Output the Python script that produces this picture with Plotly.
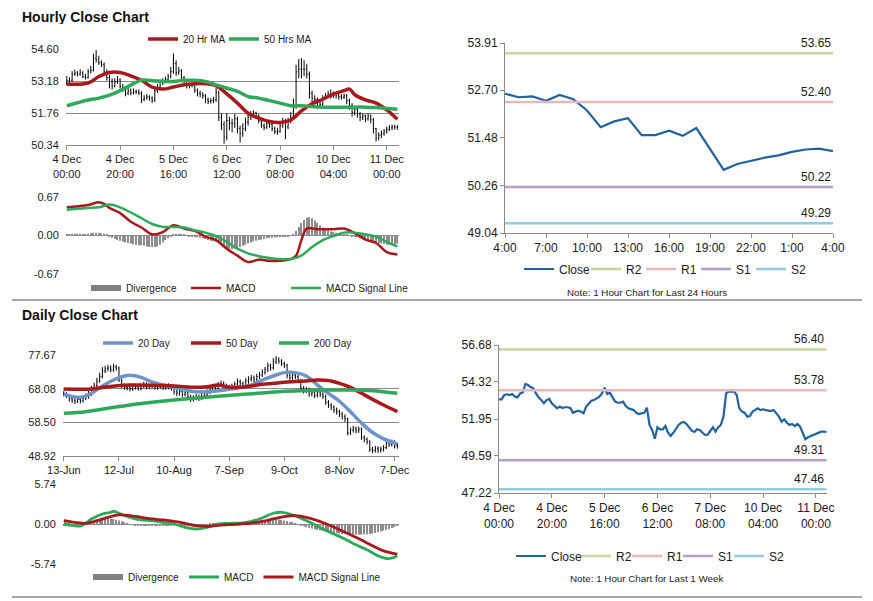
import plotly.graph_objects as go

# hourly bars, 4 Dec 00:00 -> 11 Dec 04:00 (trading hours only)
hourly_close = [
    53.21, 53.21, 53.48, 53.53, 53.48, 53.55, 53.38, 53.33, 53.59, 53.65,
    54.19, 54.12, 53.99, 53.91, 53.59, 53.33, 53.16, 52.95, 53.16, 53.23,
    52.95, 52.82, 52.63, 52.74, 52.65, 52.70, 52.70, 52.65, 52.35, 52.42,
    52.48, 52.42, 52.31, 52.74, 52.91, 53.12, 53.16, 53.25, 53.38, 53.59,
    53.95, 53.55, 53.63, 53.33, 53.06, 52.99, 52.99, 53.06, 52.78, 52.63,
    52.59, 52.52, 52.35, 52.27, 52.31, 52.35, 52.67, 51.57, 51.25, 50.69,
    51.42, 51.29, 51.29, 51.50, 51.07, 50.86, 51.07, 51.35, 51.57, 51.71,
    51.76, 51.63, 51.42, 51.20, 51.12, 51.29, 51.25, 51.07, 50.93, 50.95,
    51.20, 51.42, 51.14, 51.42, 51.57, 52.10, 53.59, 53.70, 53.70, 53.70,
    53.48, 52.63, 52.42, 52.35, 52.10, 52.14, 52.42, 52.52, 52.63, 52.52,
    52.57, 52.52, 52.48, 52.46, 52.52, 52.31, 52.10, 51.78, 51.93, 51.71,
    51.57, 51.63, 51.50, 51.63, 51.46, 51.07, 50.65, 50.78, 50.86, 50.93,
    51.03, 51.10, 51.14, 51.14, 51.12,
]
hourly_open = [
    53.10, 53.21, 53.21, 53.48, 53.53, 53.48, 53.55, 53.38, 53.33, 53.59,
    53.65, 54.19, 54.12, 53.99, 53.91, 53.59, 53.33, 53.16, 52.95, 53.16,
    53.23, 52.95, 52.82, 52.63, 52.74, 52.65, 52.70, 52.70, 52.65, 52.35,
    52.42, 52.48, 52.42, 52.31, 52.74, 52.91, 53.12, 53.16, 53.25, 53.38,
    53.59, 53.95, 53.55, 53.63, 53.33, 53.06, 52.99, 52.99, 53.06, 52.78,
    52.63, 52.59, 52.52, 52.35, 52.27, 52.31, 52.35, 52.67, 51.57, 51.25,
    50.69, 51.42, 51.29, 51.29, 51.50, 51.07, 50.86, 51.07, 51.35, 51.57,
    51.71, 51.76, 51.63, 51.42, 51.20, 51.12, 51.29, 51.25, 51.07, 50.93,
    50.95, 51.20, 51.42, 51.14, 51.42, 51.57, 52.10, 53.59, 53.70, 53.70,
    53.70, 53.48, 52.63, 52.42, 52.35, 52.10, 52.14, 52.42, 52.52, 52.63,
    52.52, 52.57, 52.52, 52.48, 52.46, 52.52, 52.31, 52.10, 51.78, 51.93,
    51.71, 51.57, 51.63, 51.50, 51.63, 51.46, 51.07, 50.65, 50.78, 50.86,
    50.93, 51.03, 51.10, 51.14, 51.14,
]
hourly_high = [
    53.40, 53.35, 53.62, 53.68, 53.62, 53.70, 53.62, 53.50, 53.72, 53.85,
    54.40, 54.55, 54.30, 54.10, 54.00, 53.70, 53.45, 53.30, 53.30, 53.40,
    53.30, 53.05, 52.95, 52.90, 52.85, 52.85, 52.80, 52.80, 52.72, 52.55,
    52.60, 52.55, 52.50, 52.85, 53.05, 53.25, 53.30, 53.38, 53.50, 53.80,
    54.40, 54.10, 53.80, 53.70, 53.40, 53.15, 53.10, 53.18, 53.10, 52.85,
    52.75, 52.68, 52.60, 52.45, 52.42, 52.48, 52.90, 52.75, 51.75, 51.40,
    51.75, 51.60, 51.50, 51.72, 51.60, 51.20, 51.30, 51.55, 51.70, 51.85,
    51.88, 51.82, 51.70, 51.50, 51.30, 51.40, 51.38, 51.32, 51.15, 51.10,
    51.32, 51.55, 51.50, 51.55, 51.80, 52.40, 53.90, 54.15, 54.20, 54.10,
    53.95, 53.60, 52.75, 52.55, 52.45, 52.30, 52.55, 52.65, 52.75, 52.80,
    52.72, 52.68, 52.65, 52.60, 52.62, 52.60, 52.40, 52.20, 52.05, 52.00,
    51.80, 51.75, 51.70, 51.75, 51.70, 51.55, 51.10, 50.90, 50.98, 51.05,
    51.15, 51.22, 51.25, 51.24, 51.22,
]
hourly_low = [
    53.00, 53.05, 53.15, 53.40, 53.38, 53.42, 53.30, 53.25, 53.28, 53.52,
    53.60, 54.00, 53.90, 53.80, 53.50, 53.20, 52.85, 52.80, 52.90, 53.05,
    52.85, 52.70, 52.50, 52.55, 52.55, 52.58, 52.60, 52.55, 52.20, 52.28,
    52.35, 52.30, 52.20, 52.25, 52.65, 52.85, 53.00, 53.08, 53.15, 53.30,
    53.50, 53.40, 53.45, 53.20, 52.95, 52.85, 52.85, 52.90, 52.65, 52.50,
    52.45, 52.40, 52.20, 52.15, 52.18, 52.20, 52.25, 51.40, 51.00, 50.40,
    50.55, 51.00, 50.90, 51.10, 50.85, 50.45, 50.70, 50.95, 51.20, 51.45,
    51.55, 51.50, 51.30, 51.10, 51.00, 51.05, 51.10, 50.95, 50.82, 50.80,
    50.88, 51.10, 50.60, 51.05, 51.30, 51.45, 51.95, 53.30, 53.30, 53.40,
    53.30, 52.40, 52.20, 52.20, 51.95, 52.00, 52.05, 52.35, 52.45, 52.40,
    52.42, 52.40, 52.35, 52.35, 52.38, 52.15, 51.90, 51.60, 51.65, 51.55,
    51.40, 51.45, 51.35, 51.42, 51.30, 50.85, 50.50, 50.55, 50.65, 50.75,
    50.85, 50.95, 51.00, 51.02, 51.02,
]
hourly_tick_idx = [0, 20, 40, 60, 80, 100, 120]
hourly_tick_text = ["4 Dec<br>00:00", "4 Dec<br>20:00", "5 Dec<br>16:00", "6 Dec<br>12:00",
                    "7 Dec<br>08:00", "10 Dec<br>04:00", "11 Dec<br>00:00"]
hourly_y_ticks = [50.34, 51.76, 53.18, 54.60]

ma20h_idx = [0, 8, 12, 16, 20, 24, 28, 32, 36, 40, 44, 48, 52, 56, 60, 64,
             68, 72, 76, 80, 84, 88, 92, 96, 100, 104, 106, 108, 112, 116, 120, 124]
ma20h = [53.04, 53.09, 53.38, 53.56, 53.56, 53.41, 53.21, 52.91, 52.82, 52.91, 53.01,
         53.06, 53.06, 52.97, 52.61, 52.20, 51.75, 51.53, 51.38, 51.34, 51.45, 51.85,
         52.17, 52.37, 52.60, 52.75, 52.82, 52.57, 52.34, 52.20, 51.90, 51.48]
ma50h_idx = [0, 8, 12, 16, 20, 24, 28, 32, 36, 40, 44, 48, 52, 56, 60, 64,
             68, 72, 76, 80, 84, 88, 92, 96, 100, 104, 108, 112, 116, 120, 124]
ma50h = [52.08, 52.34, 52.42, 52.55, 52.75, 53.00, 53.22, 53.19, 53.16, 53.16, 53.21,
         53.21, 53.16, 53.01, 52.86, 52.72, 52.49, 52.42, 52.31, 52.20, 52.08, 52.08,
         52.05, 52.02, 52.02, 52.02, 52.02, 52.02, 52.00, 51.96, 51.93]

macdh_idx = [0, 8, 12, 14, 16, 20, 24, 28, 32, 36, 40, 44, 48, 52, 56, 60, 64,
             68, 72, 76, 80, 84, 86, 88, 90, 94, 100, 104, 108, 112, 116, 120, 124]
macdh = [0.49, 0.53, 0.58, 0.55, 0.48, 0.39, 0.24, 0.14, 0.02, 0.06, 0.18, 0.12, 0.08,
         -0.02, -0.08, -0.23, -0.35, -0.46, -0.42, -0.44, -0.44, -0.41, -0.35, -0.08,
         0.12, 0.11, 0.11, 0.12, 0.04, -0.07, -0.13, -0.29, -0.33]
signalh_idx = ma50h_idx
signalh = [0.45, 0.48, 0.49, 0.54, 0.49, 0.40, 0.30, 0.20, 0.15, 0.15, 0.14, 0.09, 0.05,
           -0.01, -0.11, -0.23, -0.31, -0.36, -0.39, -0.41, -0.41, -0.35, -0.20, -0.08,
           -0.01, 0.05, 0.05, 0.02, -0.02, -0.11, -0.19]
divh = [
    0.02, 0.02, 0.03, 0.03, 0.03, 0.03, 0.02, 0.02, 0.03, 0.04, 0.05, 0.05, 0.05, 0.04, 0.03, 0.02,
    -0.02, -0.04, -0.06, -0.08, -0.09, -0.11, -0.12, -0.13, -0.14, -0.15, -0.16, -0.17,
    -0.17, -0.18, -0.19, -0.2, -0.2, -0.2, -0.19, -0.16, -0.12, -0.08, -0.05, -0.02,
    0.02, 0.03, 0.03, 0.02, 0.01, 0.0, -0.01, -0.02, -0.02, -0.03, -0.04, -0.05,
    -0.06, -0.08, -0.09, -0.1, -0.11, -0.14, -0.17, -0.2, -0.22, -0.24, -0.24, -0.23,
    -0.22, -0.2, -0.18, -0.16, -0.14, -0.12, -0.1,
    -0.09, -0.08, -0.07, -0.06, -0.05, -0.04, -0.04, -0.03, -0.03, -0.02, -0.02, -0.01,
    -0.01, 0.0, 0.03,
    0.08, 0.15, 0.22, 0.27, 0.31, 0.32, 0.3, 0.26, 0.22, 0.18, 0.14, 0.11, 0.09, 0.07,
    0.06, 0.05, 0.04, 0.03, 0.02, 0.01, 0.0, -0.01,
    -0.02, -0.03, -0.05, -0.06, -0.08, -0.09, -0.1, -0.11, -0.12, -0.13, -0.14, -0.15,
    -0.16, -0.16, -0.15, -0.15, -0.14,
]
macd_h_ticks = [-0.67, 0.0, 0.67]

# last 24 hours
day_close = [52.61, 52.52, 52.54, 52.43, 52.58, 52.47, 52.18, 51.75, 51.90, 51.98, 51.55,
             51.55, 51.66, 51.53, 51.73, 51.19, 50.66, 50.81, 50.89, 50.97, 51.03, 51.12,
             51.18, 51.20, 51.14]
day_tick_idx = [0, 3, 6, 9, 12, 15, 18, 21, 24]
day_tick_text = ["4:00", "7:00", "10:00", "13:00", "16:00", "19:00", "22:00", "1:00", "4:00"]
day_y_ticks = [49.04, 50.26, 51.48, 52.70, 53.91]
day_levels = {"R2": 53.65, "R1": 52.40, "S1": 50.22, "S2": 49.29}

week_y_ticks = [47.22, 49.59, 51.95, 54.32, 56.68]
week_levels = {"R2": 56.40, "R1": 53.78, "S1": 49.31, "S2": 47.46}

# daily bars, 13-Jun -> 10-Dec
daily_close = [
    66.5, 66.0, 65.2, 64.8, 64.5, 65.0, 64.6, 65.3, 65.8, 66.5,
    68.0, 69.0, 70.2, 71.5, 73.2, 73.8, 74.0, 73.5, 74.3, 74.0,
    70.5, 69.0, 68.4, 68.3, 68.0, 68.8, 68.5, 68.2, 68.9, 69.3,
    68.6, 68.8, 69.2, 68.5, 68.7, 69.0, 68.4, 68.9, 68.6, 68.2,
    67.2, 66.8, 67.3, 66.5, 66.9, 65.8, 65.2, 65.5, 65.9, 65.4,
    66.0, 66.3, 67.2, 67.8, 68.5, 68.0, 69.2, 69.6, 68.9, 68.3,
    68.5, 68.8, 69.4, 70.1, 69.5, 69.0, 70.3, 70.8, 71.2, 70.6,
    71.5, 72.0, 72.8, 73.5, 74.6, 74.0, 75.8, 76.5, 75.9, 75.2,
    74.8, 71.8, 71.3, 72.0, 71.5, 70.5, 68.2, 67.5, 67.9, 66.6,
    66.9, 66.2, 67.1, 66.5, 65.9, 64.2, 63.4, 62.8, 62.0, 61.5,
    60.8, 60.2, 59.5, 55.5, 56.3, 56.8, 56.2, 56.6, 54.2, 53.6,
    53.0, 50.8, 50.5, 51.1, 50.6, 50.9, 51.3, 52.6, 52.2, 52.9, 51.8, 51.9,
]
daily_open = [
    66.8, 66.5, 66.0, 65.2, 64.8, 64.5, 65.0, 64.6, 65.3, 65.8,
    66.5, 68.0, 69.0, 70.2, 71.5, 73.2, 73.8, 74.0, 73.5, 74.3,
    74.0, 70.5, 69.0, 68.4, 68.3, 68.0, 68.8, 68.5, 68.2, 68.9,
    69.3, 68.6, 68.8, 69.2, 68.5, 68.7, 69.0, 68.4, 68.9, 68.6,
    68.2, 67.2, 66.8, 67.3, 66.5, 66.9, 65.8, 65.2, 65.5, 65.9,
    65.4, 66.0, 66.3, 67.2, 67.8, 68.5, 68.0, 69.2, 69.6, 68.9,
    68.3, 68.5, 68.8, 69.4, 70.1, 69.5, 69.0, 70.3, 70.8, 71.2,
    70.6, 71.5, 72.0, 72.8, 73.5, 74.6, 74.0, 75.8, 76.5, 75.9,
    75.2, 74.8, 71.8, 71.3, 72.0, 71.5, 70.5, 68.2, 67.5, 67.9,
    66.6, 66.9, 66.2, 67.1, 66.5, 65.9, 64.2, 63.4, 62.8, 62.0,
    61.5, 60.8, 60.2, 59.5, 55.5, 56.3, 56.8, 56.2, 56.6, 54.2,
    53.6, 53.0, 50.8, 50.5, 51.1, 50.6, 50.9, 51.3, 52.6, 52.2, 52.9, 51.8,
]
daily_high = [
    67.5, 67.1, 66.6, 65.9, 65.5, 65.8, 65.6, 66.0, 66.7, 67.6,
    68.9, 69.8, 71.2, 72.6, 74.2, 74.6, 74.9, 74.7, 75.2, 74.9,
    74.4, 71.0, 69.6, 69.2, 69.0, 69.5, 69.4, 69.1, 69.6, 70.0,
    69.9, 69.5, 69.9, 69.8, 69.4, 69.7, 69.6, 69.5, 69.6, 69.2,
    68.6, 67.9, 68.0, 67.8, 67.5, 67.4, 66.4, 66.2, 66.6, 66.4,
    66.7, 67.0, 67.9, 68.6, 69.3, 69.1, 70.0, 70.4, 70.2, 69.5,
    69.2, 69.5, 70.1, 71.0, 70.7, 70.1, 71.1, 71.6, 72.0, 71.8,
    72.3, 72.8, 73.6, 74.3, 75.5, 75.2, 76.8, 77.4, 77.0, 76.5,
    75.8, 75.2, 72.5, 72.8, 72.6, 72.1, 70.9, 68.8, 68.6, 68.4,
    67.6, 67.4, 67.9, 67.7, 67.1, 66.4, 64.8, 64.0, 63.4, 62.7,
    62.1, 61.5, 60.8, 59.9, 57.0, 57.5, 57.3, 57.3, 57.0, 54.8,
    54.2, 53.4, 51.5, 51.8, 51.7, 51.6, 52.0, 53.3, 53.2, 53.6, 53.4, 52.6,
]
daily_low = [
    65.8, 65.4, 64.4, 64.0, 63.7, 64.0, 63.9, 64.1, 64.8, 65.2,
    66.0, 67.4, 68.5, 69.8, 71.0, 72.5, 73.0, 72.8, 72.9, 73.2,
    70.0, 68.3, 67.8, 67.6, 67.3, 67.4, 67.8, 67.5, 67.6, 68.2,
    67.9, 67.9, 68.1, 67.8, 67.8, 68.0, 67.7, 67.8, 67.9, 67.5,
    66.4, 66.0, 66.1, 65.7, 65.9, 65.0, 64.3, 64.4, 64.8, 64.6,
    64.8, 65.3, 65.8, 66.5, 67.1, 67.3, 67.5, 68.6, 68.1, 67.6,
    67.6, 67.8, 68.1, 68.7, 68.8, 68.3, 68.6, 69.5, 70.1, 69.9,
    69.9, 70.8, 71.4, 72.1, 72.8, 73.2, 73.5, 75.1, 75.2, 74.5,
    74.0, 71.0, 70.4, 70.6, 70.8, 69.8, 67.3, 66.7, 66.8, 65.8,
    65.9, 65.4, 65.6, 65.7, 65.1, 63.5, 62.6, 62.0, 61.2, 60.7,
    60.0, 59.3, 58.6, 54.8, 54.9, 55.6, 55.4, 55.5, 53.5, 52.8,
    52.2, 50.1, 49.7, 49.9, 49.8, 49.9, 50.2, 50.9, 51.5, 51.6, 51.1, 51.0,
]
daily_tick_idx = [0, 20, 40, 60, 80, 100, 120]
daily_tick_text = ["13-Jun", "12-Jul", "10-Aug", "7-Sep", "9-Oct", "8-Nov", "7-Dec"]
daily_y_ticks = [48.92, 58.50, 68.08, 77.67]

ma20d_idx = [0, 6, 10, 14, 18, 22, 24, 28, 32, 36, 40, 44, 48, 52, 56, 60, 64,
             68, 72, 76, 80, 84, 88, 92, 96, 100, 104, 108, 112, 116, 120, 121]
ma20d = [66.47, 65.62, 66.76, 68.85, 70.55, 71.7, 71.88, 71.3, 70.0, 69.13, 68.47, 67.7,
         67.2, 67.2, 67.5, 67.9, 68.47, 69.13, 70.55, 71.7, 72.65, 72.65, 71.7, 69.13,
         66.76, 64.5, 61.5, 58.3, 55.6, 53.8, 52.6, 52.3]
ma50d_idx = [0, 10, 16, 24, 32, 40, 48, 52, 56, 60, 64, 68, 72, 76, 80, 84, 88, 92,
             96, 100, 104, 108, 112, 116, 121]
ma50d = [67.99, 67.99, 68.66, 69.13, 69.04, 68.85, 68.47, 68.66, 69.1, 68.47, 68.47,
         68.85, 69.32, 69.6, 69.9, 70.1, 70.3, 70.55, 70.4, 69.6, 68.47, 66.76, 65.05,
         63.44, 61.54]
ma200d_idx = [0, 8, 16, 24, 32, 40, 48, 56, 64, 72, 80, 88, 96, 104, 112, 121]
ma200d = [61.06, 61.54, 62.5, 63.44, 64.2, 64.86, 65.43, 65.9, 66.4, 66.85, 67.33, 67.6,
          67.7, 67.7, 67.5, 66.76]

macdd_idx = [0, 4, 6, 8, 10, 14, 17, 18, 20, 24, 28, 32, 36, 40, 44, 48, 52, 56, 60,
             64, 68, 72, 76, 79, 82, 86, 90, 94, 98, 102, 106, 110, 114, 117, 119, 121]
macdd = [0.1, -0.24, -0.29, 0.1, 0.72, 1.44, 1.68, 1.83, 1.54, 0.96, 0.58, 0.48, 0.24,
         0.0, -0.48, -0.72, -0.48, 0.0, 0.1, 0.14, 0.38, 0.87, 1.54, 1.68, 1.44, 0.82,
         0.1, -0.72, -1.44, -2.16, -2.98, -3.7, -4.57, -4.95, -4.9, -4.6]
signald_idx = [0, 4, 8, 12, 16, 20, 24, 28, 32, 36, 40, 44, 48, 52, 56, 60, 64, 68,
               72, 76, 80, 84, 88, 92, 96, 100, 104, 108, 112, 116, 121]
signald = [0.48, 0.24, 0.1, 0.48, 0.96, 1.3, 1.2, 0.96, 0.72, 0.58, 0.38, 0.1, -0.24,
           -0.34, -0.19, -0.1, 0.0, 0.14, 0.38, 0.72, 1.06, 1.2, 0.96, 0.48, -0.1,
           -0.82, -1.54, -2.31, -3.13, -3.85, -4.33]
divd = [
    -0.3, -0.35, -0.4, -0.42, -0.45, -0.4, -0.35, -0.2, -0.05, 0.1,
    0.25, 0.4, 0.5, 0.6, 0.65, 0.7, 0.72, 0.72, 0.7, 0.62, 0.5, 0.38, 0.25, 0.12,
    -0.05, -0.12, -0.18, -0.22, -0.25, -0.27, -0.28, -0.28, -0.27, -0.26,
    -0.25, -0.24, -0.23, -0.22, -0.22, -0.23, -0.25, -0.28, -0.3, -0.32,
    -0.33, -0.33, -0.32, -0.3, -0.27, -0.22, -0.16, -0.1, -0.04, 0.02,
    0.06, 0.09, 0.12, 0.14, 0.15, 0.15, 0.14, 0.14, 0.15, 0.16,
    0.18, 0.2, 0.22, 0.25, 0.28, 0.32, 0.36, 0.4,
    0.44, 0.5, 0.55, 0.6, 0.64, 0.66, 0.65, 0.6, 0.52, 0.42, 0.3, 0.18, 0.05, -0.08,
    -0.2, -0.32, -0.44, -0.55, -0.65, -0.75, -0.85, -0.93, -1.0, -1.08,
    -1.15, -1.22, -1.28, -1.33, -1.38, -1.42, -1.45, -1.48, -1.5, -1.52,
    -1.53, -1.53, -1.52, -1.5, -1.47, -1.43, -1.38, -1.3, -1.2, -1.08,
    -0.95, -0.82, -0.7, -0.58, -0.45, -0.3,
]
macd_d_ticks = [-5.74, 0.0, 5.74]

# the page body adds an 8px margin: the figure fills the rest of the window
OX, OY = 8, 8
W, H = 873 - OX, 601 - OY
RED = "#a8191b"
GREEN = "#2fa85a"
BLUE = "#6f93c9"
CLOSE_BLUE = "#22629e"
LEVEL_COLORS = {"R2": "#c3d69b", "R1": "#e6b9b8", "S1": "#b3a2c7", "S2": "#93cddd"}
GRID = "#8a8a8a"
FONT = "Liberation Sans, Arial, sans-serif"


def px(x):
    return (x - OX) / W


def py(y):
    return 1 - (y - OY) / H


def xdom(a, b):
    return [px(a), px(b)]


def ydom(top, bottom):
    return [py(bottom), py(top)]


def fmt(vals):
    return ["%.2f" % v for v in vals]


hourly_x = list(range(len(hourly_close)))
daily_x = list(range(len(daily_close)))
day_x = list(range(len(day_close)))

fig = go.Figure()

# ---- hourly price panel
fig.add_trace(go.Ohlc(x=hourly_x, open=hourly_open, high=hourly_high, low=hourly_low,
                      close=hourly_close, tickwidth=0.3, showlegend=False, hoverinfo="skip",
                      increasing_line=dict(color="black", width=1),
                      decreasing_line=dict(color="black", width=1),
                      xaxis="x", yaxis="y"))
fig.add_trace(go.Scatter(x=ma20h_idx, y=ma20h, name="20 Hr MA", mode="lines",
                         line=dict(color=RED, width=3.5, shape="spline"), legendwidth=36,
                         legend="legend", xaxis="x", yaxis="y"))
fig.add_trace(go.Scatter(x=ma50h_idx, y=ma50h, name="50 Hrs MA", mode="lines",
                         line=dict(color=GREEN, width=3.5, shape="spline"),
                         legend="legend", xaxis="x", yaxis="y"))

# ---- hourly MACD panel
fig.add_trace(go.Bar(x=hourly_x, y=divh, width=0.45, marker_color="#8c8c8c",
                     marker_line_width=0, showlegend=False, xaxis="x2", yaxis="y2"))
fig.add_trace(go.Scatter(x=[None], y=[None], name="Divergence", mode="lines",
                         line=dict(color="#808080", width=6), legendwidth=55,
                         legend="legend2", xaxis="x2", yaxis="y2"))
fig.add_trace(go.Scatter(x=macdh_idx, y=macdh, name="MACD", mode="lines",
                         line=dict(color=RED, width=2.5, shape="spline"), legendwidth=55,
                         legend="legend2", xaxis="x2", yaxis="y2"))
fig.add_trace(go.Scatter(x=signalh_idx, y=signalh, name="MACD Signal Line", mode="lines",
                         line=dict(color=GREEN, width=2.5, shape="spline"),
                         legend="legend2", xaxis="x2", yaxis="y2"))

# ---- last 24 hours
fig.add_trace(go.Scatter(x=day_x, y=day_close, name="Close", mode="lines",
                         line=dict(color=CLOSE_BLUE, width=2.2), legendwidth=22,
                         legend="legend3", xaxis="x3", yaxis="y3"))
for name, val in day_levels.items():
    fig.add_trace(go.Scatter(x=[day_x[0], day_x[-1]], y=[val, val], name=name, mode="lines",
                             line=dict(color=LEVEL_COLORS[name], width=2.5),
                             legendwidth=10 if name != "S2" else None,
                             legend="legend3", xaxis="x3", yaxis="y3"))

# ---- daily price panel
fig.add_trace(go.Ohlc(x=daily_x, open=daily_open, high=daily_high, low=daily_low,
                      close=daily_close, tickwidth=0.3, showlegend=False, hoverinfo="skip",
                      increasing_line=dict(color="black", width=1),
                      decreasing_line=dict(color="black", width=1),
                      xaxis="x4", yaxis="y4"))
fig.add_trace(go.Scatter(x=ma20d_idx, y=ma20d, name="20 Day", mode="lines",
                         line=dict(color=BLUE, width=3.5, shape="spline"), legendwidth=43,
                         legend="legend4", xaxis="x4", yaxis="y4"))
fig.add_trace(go.Scatter(x=ma50d_idx, y=ma50d, name="50 Day", mode="lines",
                         line=dict(color=RED, width=3.5, shape="spline"), legendwidth=43,
                         legend="legend4", xaxis="x4", yaxis="y4"))
fig.add_trace(go.Scatter(x=ma200d_idx, y=ma200d, name="200 Day", mode="lines",
                         line=dict(color=GREEN, width=3.5, shape="spline"),
                         legend="legend4", xaxis="x4", yaxis="y4"))

# ---- daily MACD panel
fig.add_trace(go.Bar(x=daily_x, y=divd, width=0.45, marker_color="#8c8c8c",
                     marker_line_width=0, showlegend=False, xaxis="x5", yaxis="y5"))
fig.add_trace(go.Scatter(x=[None], y=[None], name="Divergence", mode="lines",
                         line=dict(color="#808080", width=6),
                         legend="legend5", xaxis="x5", yaxis="y5"))
fig.add_trace(go.Scatter(x=macdd_idx, y=macdd, name="MACD", mode="lines",
                         line=dict(color=GREEN, width=2.8, shape="spline"),
                         legend="legend5", xaxis="x5", yaxis="y5"))
fig.add_trace(go.Scatter(x=signald_idx, y=signald, name="MACD Signal Line", mode="lines",
                         line=dict(color=RED, width=2.8, shape="spline"),
                         legend="legend5", xaxis="x5", yaxis="y5"))

# ---- last week hourly close
fig.add_trace(go.Scatter(x=hourly_x, y=hourly_close, name="Close", mode="lines",
                         line=dict(color=CLOSE_BLUE, width=2.2), legendwidth=20,
                         legend="legend6", xaxis="x6", yaxis="y6"))
for name, val in week_levels.items():
    fig.add_trace(go.Scatter(x=[hourly_x[0], hourly_x[-1]], y=[val, val], name=name,
                             mode="lines", line=dict(color=LEVEL_COLORS[name], width=2.5),
                             legendwidth=6 if name != "S2" else None,
                             legend="legend6", xaxis="x6", yaxis="y6"))

tick_font = dict(size=11, color="#1a1a1a")
big_tick_font = dict(size=12, color="#1a1a1a")


def xaxis(dom, anchor, rng, vals=None, text=None, font=tick_font, line=True):
    d = dict(domain=dom, anchor=anchor, range=rng, showgrid=False, zeroline=False,
             fixedrange=True, rangeslider=dict(visible=False), tickfont=font,
             automargin=False)
    if vals is None:
        d.update(showticklabels=False, ticks="", showline=False)
    else:
        d.update(tickmode="array", tickvals=vals, ticktext=text, ticks="outside",
                 ticklen=4, tickcolor=GRID, showline=line, linecolor=GRID, linewidth=1)
    return d


def yaxis(dom, anchor, vals, grid=True, font=tick_font, line=False):
    return dict(domain=dom, anchor=anchor, range=[vals[0], vals[-1]], tickmode="array",
                tickvals=vals, ticktext=fmt(vals), showgrid=grid, gridcolor=GRID,
                gridwidth=1, zeroline=False, fixedrange=True, tickfont=font,
                ticks="outside", ticklen=4, tickcolor=GRID if line else "rgba(0,0,0,0)",
                showline=line, linecolor=GRID, linewidth=1, automargin=False)


def legend_at(swatch_x, center_y, size=10):
    return dict(orientation="h", x=px(swatch_x - 4), y=py(center_y - 1), xanchor="left",
                yanchor="middle", bgcolor="rgba(0,0,0,0)",
                font=dict(size=size, color="#1a1a1a", family=FONT), entrywidthmode="pixels",
                itemwidth=30, itemclick=False, itemdoubleclick=False)


title_font = dict(size=14, color="#111")
note_font = dict(size=9.8, color="#1a1a1a")
annotations = [
    dict(text="<b>Hourly Close Chart</b>", x=px(20), y=py(8), xref="paper", yref="paper",
         xanchor="left", yanchor="top", height=14, valign="middle", showarrow=False,
         font=title_font),
    dict(text="<b>Daily Close Chart</b>", x=px(20), y=py(306), xref="paper", yref="paper",
         xanchor="left", yanchor="top", height=14, valign="middle", showarrow=False,
         font=title_font),
    dict(text="Note: 1 Hour Chart for Last 24 Hours", x=px(647), y=py(292), xref="paper",
         yref="paper", xanchor="center", yanchor="middle", showarrow=False, font=note_font),
    dict(text="Note: 1 Hour Chart for Last 1 Week", x=px(646), y=py(578), xref="paper",
         yref="paper", xanchor="center", yanchor="middle", showarrow=False, font=note_font),
]
for val in day_levels.values():
    annotations.append(dict(text="%.2f" % val, x=day_x[-1], y=val, xref="x3", yref="y3",
                            xanchor="right", yanchor="bottom", showarrow=False, yshift=1,
                            font=dict(size=12, color="#1a1a1a")))
for val in week_levels.values():
    annotations.append(dict(text="%.2f" % val, x=hourly_x[-1], y=val, xref="x6", yref="y6",
                            xanchor="right", yanchor="bottom", showarrow=False, yshift=1,
                            font=dict(size=12, color="#1a1a1a")))

shapes = [
    dict(type="line", xref="paper", yref="paper", x0=px(12), x1=px(862),
         y0=py(300), y1=py(300), line=dict(color=GRID, width=1.5)),
    dict(type="line", xref="paper", yref="paper", x0=px(12), x1=px(862),
         y0=py(597), y1=py(597), line=dict(color=GRID, width=1.5)),
]

fig.update_layout(
    width=W, height=H, margin=dict(l=0, r=0, t=0, b=0, pad=0, autoexpand=False),
    paper_bgcolor="white", plot_bgcolor="white",
    font=dict(family=FONT, color="#1a1a1a"),
    barmode="overlay", hovermode=False,
    xaxis=xaxis(xdom(66, 399), "y", [-0.3, 124.6], hourly_tick_idx, hourly_tick_text),
    yaxis=yaxis(ydom(49, 145), "x", hourly_y_ticks),
    xaxis2=xaxis(xdom(66, 399), "y2", [-0.3, 124.6]),
    yaxis2=yaxis(ydom(197, 274), "x2", macd_h_ticks),
    xaxis3=xaxis(xdom(505, 833), "y3", [0, 24], day_tick_idx, day_tick_text, big_tick_font),
    yaxis3=yaxis(ydom(43, 233), "x3", day_y_ticks, grid=False, font=big_tick_font, line=True),
    xaxis4=xaxis(xdom(63, 399), "y4", [-0.3, 121.6], daily_tick_idx, daily_tick_text),
    yaxis4=yaxis(ydom(355, 456), "x4", daily_y_ticks),
    xaxis5=xaxis(xdom(63, 399), "y5", [-0.3, 121.6]),
    yaxis5=yaxis(ydom(484, 564), "x5", macd_d_ticks),
    xaxis6=xaxis(xdom(499, 827), "y6", [0, 124.2], hourly_tick_idx, hourly_tick_text,
                 big_tick_font),
    yaxis6=yaxis(ydom(345, 493), "x6", week_y_ticks, grid=False, font=big_tick_font,
                 line=True),
    legend=legend_at(147, 40),
    legend2=legend_at(90, 289),
    legend3=legend_at(523, 270, 12),
    legend4=legend_at(102, 344),
    legend5=legend_at(92, 578),
    legend6=legend_at(515, 557, 12),
    annotations=annotations,
    shapes=shapes,
)

fig.write_html("out.html")
